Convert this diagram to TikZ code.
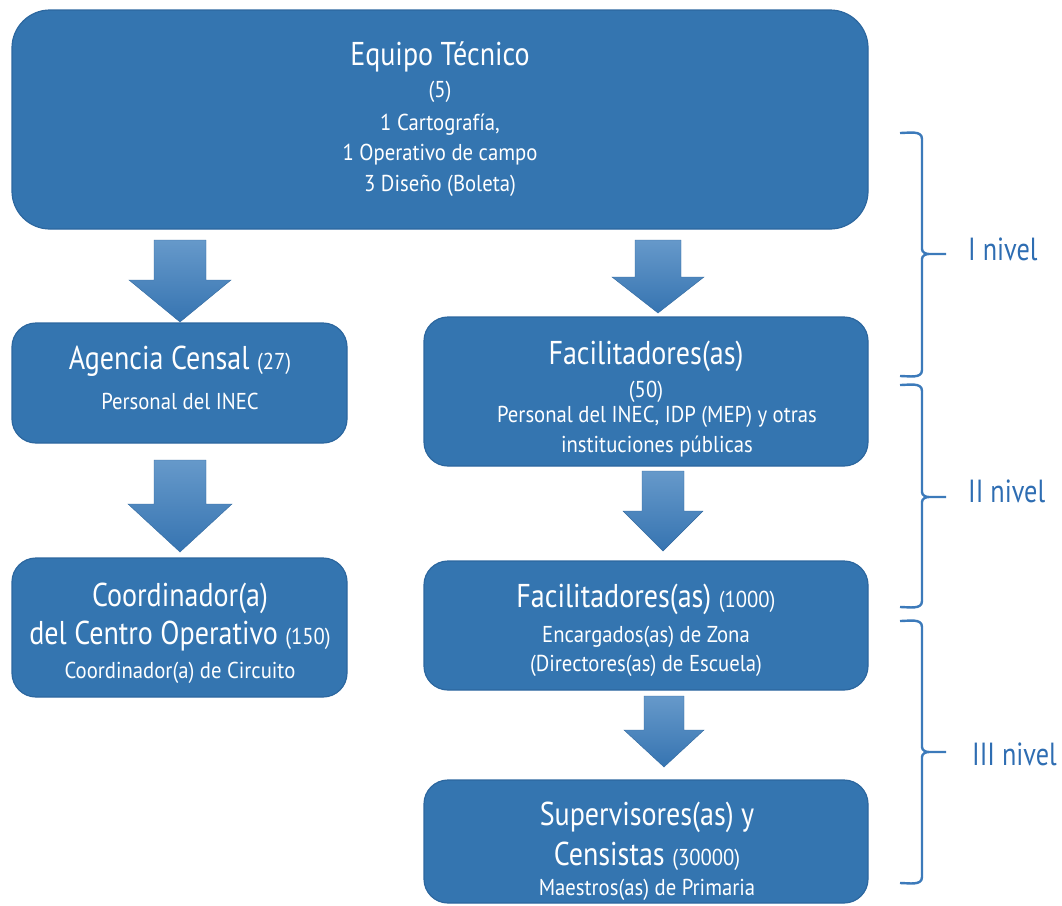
\documentclass[tikz,border=0pt]{standalone}
\usepackage{fontspec}
\setmainfont{PT Sans}[FakeStretch=0.9]
\newfontfamily\lvlfont{PT Sans}[FakeStretch=0.82]
\newfontfamily\ttlfont{PT Sans}[FakeStretch=0.85]
\usetikzlibrary{calc}
\definecolor{boxblue}{HTML}{3475B0}
\definecolor{boxedge}{HTML}{2C679F}
\definecolor{arrtop}{HTML}{6699CA}
\definecolor{arrbot}{HTML}{3674B1}
\definecolor{bracecol}{HTML}{3C7ABA}
\definecolor{lvlcol}{HTML}{2E6DB2}
\newcommand\ttlsz{\ttlfont\fontsize{33}{38}\selectfont}
\newcommand\subsz{\normalfont\fontsize{23}{27}\selectfont}
\newcommand\dnarrow[6]{%
  \path[arrshade] ({#1-#5},#2) -- ({#1+#5},#2) -- ({#1+#5},#3) -- ({#1+#6},#3)
    -- (#1,#4) -- ({#1-#6},#3) -- ({#1-#5},#3) -- cycle;}
\newcommand\lvlbrace[3]{%
  \draw[brc] (900,#1) to[out=0,in=90] (922,{#1+6}) -- (922,{#2-5})
    to[out=-90,in=180] (929,#2) -- (946,#2)
    (929,#2) to[out=180,in=90] (922,{#2+5}) -- (922,{#3-6})
    to[out=-90,in=0] (900,#3);}
\begin{document}
\begin{tikzpicture}[x=1pt,y=-1pt,
  box/.style={fill=boxblue, draw=boxedge, line width=1.2pt, rounded corners=24pt, inner sep=0pt},
  ttl/.style={text=white, font=\ttlsz, anchor=base, inner sep=0pt},
  sub/.style={text=white, font=\subsz, anchor=base, inner sep=0pt},
  arrshade/.style={top color=arrtop, bottom color=arrbot, draw=arrbot!90!black, line width=0.4pt},
  brc/.style={draw=bracecol, line width=2.4pt},
  lvl/.style={text=lvlcol, font=\lvlfont\fontsize{32}{38}\selectfont, anchor=base west, inner sep=0pt}]
\useasboundingbox (0,0) rectangle (1062,905);

% boxes
\node[box, rounded corners=38pt, minimum width=856pt, minimum height=219pt] (tec) at (440,119.5) {};
\node[box, minimum width=335pt, minimum height=120pt] (age) at (179.5,383) {};
\node[box, minimum width=335pt, minimum height=139pt] (coo) at (179.5,627.5) {};
\node[box, minimum width=444pt, minimum height=149pt] (fa1) at (646,391.5) {};
\node[box, minimum width=444pt, minimum height=129pt] (fa2) at (646,625.5) {};
\node[box, minimum width=444pt, minimum height=123pt] (sup) at (646,841.5) {};

% texts
\node[ttl] (tec1) at (440,65) {Equipo Técnico};
\node[sub] (tec2) at (440,97) {(5)};
\node[sub] (tec3) at (440,130) {1 Cartografía,};
\node[sub] (tec4) at (440,160) {1 Operativo de campo};
\node[sub] (tec5) at (440,191) {3 Diseño (Boleta)};

\node[ttl] (age1) at (180,369) {Agencia Censal {\subsz (27)}};
\node[sub] (age2) at (180,409) {Personal del INEC};

\node[ttl] (coo1) at (180,606) {Coordinador(a)};
\node[ttl] (coo2) at (180,644) {del Centro Operativo {\subsz (150)}};
\node[sub] (coo3) at (180,678) {Coordinador(a) de Circuito};

\node[ttl] (fa11) at (646,364) {Facilitadores(as)};
\node[sub] (fa12) at (646,397) {(50)};
\node[sub] (fa13) at (657,422) {Personal del INEC, IDP (MEP) y otras};
\node[sub] (fa14) at (657,452) {instituciones públicas};

\node[ttl] (fa21) at (646,607) {Facilitadores(as) {\subsz (1000)}};
\node[sub] (fa22) at (646,642) {Encargados(as) de Zona};
\node[sub] (fa23) at (646,671) {(Directores(as) de Escuela)};

\node[ttl] (sup1) at (647,825) {Supervisores(as) y};
\node[ttl] (sup2) at (647,865) {Censistas {\subsz (30000)}};
\node[sub] (sup3) at (647,895) {Maestros(as) de Primaria};

% block arrows
\dnarrow{180}{240}{280}{322}{26}{51}
\dnarrow{658}{240}{277}{313}{23}{46}
\dnarrow{180}{460}{504}{552}{26}{52}
\dnarrow{663}{471}{511}{551}{21}{40}
\dnarrow{664}{696}{730}{767}{20}{40}

% braces
\lvlbrace{133}{254}{376}
\lvlbrace{385}{497}{607}
\lvlbrace{621}{752}{883}
\node[lvl] (l1) at (968,260) {I nivel};
\node[lvl] (l2) at (968,502) {II nivel};
\node[lvl] (l3) at (972,765) {III nivel};
\end{tikzpicture}
\end{document}
